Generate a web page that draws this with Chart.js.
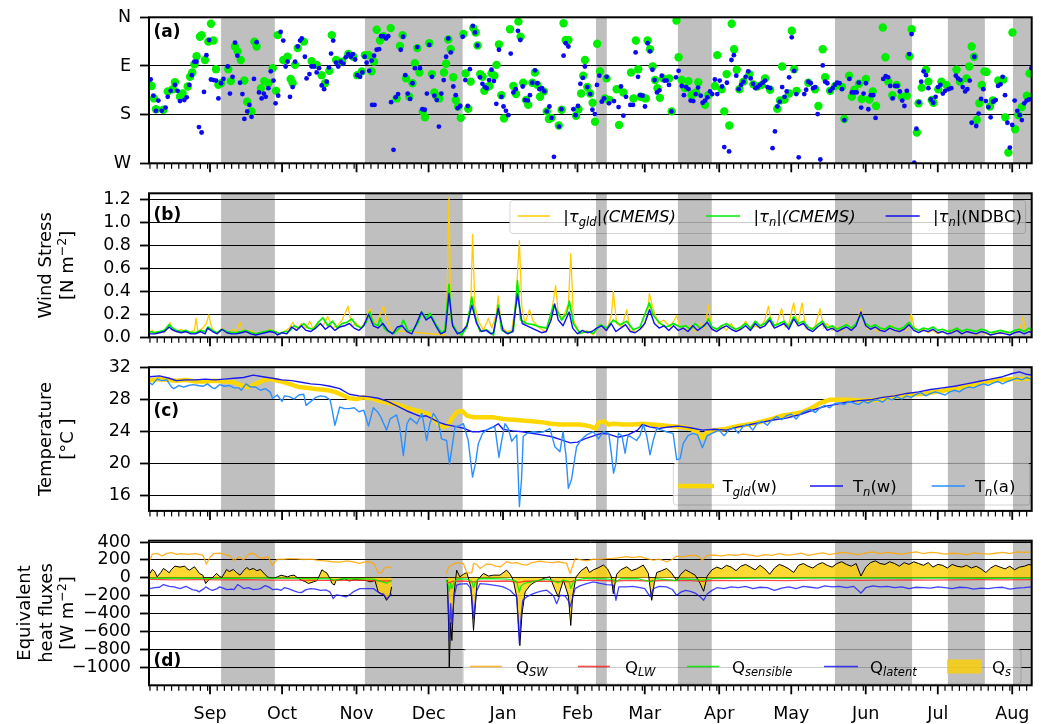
<!DOCTYPE html>
<html><head><meta charset="utf-8">
<script src="https://cdn.jsdelivr.net/npm/chart.js@4/dist/chart.umd.min.js"></script>
<style>
html,body{margin:0;padding:0;background:#fff;}
#wrap{position:relative;width:1045px;height:724px;overflow:hidden;}
canvas{position:absolute;left:0;}
</style></head><body><div id="wrap">
<canvas id="pa" width="1045" height="180" style="top:0px"></canvas>
<canvas id="pb" width="1045" height="172" style="top:180px"></canvas>
<canvas id="pc" width="1045" height="174" style="top:352px"></canvas>
<canvas id="pd" width="1045" height="198" style="top:526px"></canvas>
</div>
<script>
// ---- time axis: days counted from 1 Sep ----
const X_MIN = -25.4, X_MAX = 342.1;
const monthNames = ['Sep','Oct','Nov','Dec','Jan','Feb','Mar','Apr','May','Jun','Jul','Aug'];
const monthStarts = [0,30,61,91,122,153,181,212,242,273,303,334];
const monthLengths = [30,31,30,31,31,28,31,30,31,30,31,31];
const shadedSpans = [[4.6,27.0],[64.5,105.2],[160.7,165.2],[194.8,208.9],[260.2,292.3],[307.2,322.6],[334.3,345]];

// ---- (a) wind direction [day, degrees from N] ----
const dirCmems = [[-24.3,127],[-23.3,150],[-22.5,170],[-19.4,171],[-17.6,137],[-15.5,133],[-14.6,120],[-12.5,147],[-11.4,141],[-9.3,128],[-8.3,110],[-7.4,102],[-6.5,87],[-5.6,72],[-4.2,36],[-3.5,33],[-2.1,79],[-0.7,45],[0.4,12],[1.4,43],[2.5,96],[3.5,125],[4.6,122],[7.6,96],[8.7,118],[10.4,54],[11.5,63],[12.8,79],[14.3,117],[15.5,156],[17.3,174],[18.5,45],[19.4,54],[21.2,131],[22.6,118],[24.3,122],[26.1,94],[27.5,136],[28.2,33],[30.5,79],[32.3,73],[33.6,114],[34.4,122],[35.4,88],[36.5,57],[39.1,45],[42.3,81],[44.4,88],[46.5,107],[47.9,122],[49.7,99],[50.7,33],[52.5,79],[55,82],[57.6,68],[59.7,73],[61.3,107],[63.2,100],[64.5,70],[66,70],[67.3,100],[68.3,82],[69.4,23],[70.8,43],[72.2,35],[75.2,20],[77.7,150],[79.1,53],[80.2,33],[81.6,113],[83,147],[84.3,122],[85.3,85],[86.3,57],[87.2,102],[88.6,174],[89.5,185],[91.3,48],[92.4,105],[93.4,139],[94.4,147],[95.5,150],[97.4,102],[98.3,86],[99.2,41],[100.2,59],[101.3,111],[102.3,153],[103.3,165],[104.4,186],[105.5,31],[106.4,104],[107.5,169],[108.5,119],[109.6,20],[110.6,28],[111.4,52],[112.5,105],[113.5,110],[114.2,136],[115.4,129],[116.3,127],[117.2,104],[118.4,108],[119.3,88],[120.3,50],[121.3,144],[122.4,187],[124.9,22],[126.3,127],[127.4,142],[128.4,8],[129.3,36],[130.4,121],[131.6,153],[132.5,162],[134.2,121],[135.3,102],[136.3,125],[137.4,147],[139,137],[140.2,174],[141.1,188],[142.2,186],[145.2,200],[146.4,171],[147.2,11],[148.1,42],[149.2,42],[152.4,182],[153.4,170],[154.5,141],[155.4,108],[156.1,79],[157.1,129],[158.3,141],[159.3,158],[160.3,193],[161.2,49],[162.4,100],[164.4,150],[165.1,113],[166.3,153],[169.3,133],[170.3,199],[172.1,139],[175.3,102],[176.3,150],[177.3,43],[178.3,96],[179.3,147],[180.3,148],[181.4,150],[182.2,43],[183.2,59],[184.3,91],[185.3,116],[186.3,131],[187.3,149],[188.7,113],[191.2,113],[192.2,174],[194.2,6],[195.1,74],[196.4,116],[197.7,131],[199.2,118],[200.5,144],[201.2,142],[202.3,139],[203.3,120],[206.1,162],[207.5,144],[210.2,127],[211.2,70],[213,133],[214.1,174],[215.1,105],[216.2,200],[217.2,12],[218.2,59],[219.3,97],[220.4,133],[222.1,119],[224.6,105],[226.2,124],[227.9,128],[229.7,125],[231.1,113],[233.2,134],[236.2,169],[237.3,154],[238.2,91],[239.2,152],[241.1,141],[242.2,25],[243.2,96],[244.2,136],[249.1,121],[251.9,133],[253.3,164],[255.1,59],[256.1,111],[258.2,136],[260.3,127],[263.1,129],[264.1,188],[266.1,108],[267.2,147],[268.3,134],[270.2,123],[271.3,151],[273.1,114],[274.5,152],[275.9,137],[277.3,164],[280.1,19],[281.2,74],[282.4,119],[284.1,144],[285.9,125],[288,147],[290.1,145],[291.2,72],[292.1,22],[294.3,213],[295,159],[296.3,130],[298.1,97],[299.1,119],[300.5,153],[301.2,158],[303.2,133],[304.5,119],[306.6,125],[310.8,97],[312.2,119],[315,113],[316.1,91],[317.1,54],[318.1,73],[319.2,190],[320.3,159],[321.3,125],[322.4,100],[323.3,101],[324.7,165],[325.9,154],[328.2,117],[330.3,115],[331.1,185],[332.4,250],[334.1,28],[335.2,207],[336.6,181],[338,166],[340.1,145],[341.2,104]];
const dirNdbc = [[-24.7,115],[-23.6,145],[-22.5,173],[-21.5,154],[-20.1,173],[-18.5,167],[-17.6,147],[-16.4,136],[-14.6,125],[-13.5,136],[-12.5,155],[-10.7,153],[-9.7,148],[-8.6,125],[-7.6,107],[-6.5,82],[-5.6,82],[-4.6,203],[-3.5,213],[-2.5,138],[-1.5,70],[-0.4,42],[0.4,115],[1.5,116],[2.5,117],[3.5,150],[4.6,122],[5.6,114],[7.4,91],[8.3,141],[9.4,110],[10.4,47],[11.4,71],[12.5,121],[13.5,142],[14.3,188],[15.5,174],[16.4,162],[17.3,184],[18.3,114],[19.4,46],[20.4,139],[21.5,150],[22.4,141],[23.2,147],[24.3,131],[25.3,100],[26.4,117],[27.3,159],[28.4,145],[29.4,27],[30.5,43],[31.5,91],[32.3,82],[33.3,147],[34.4,129],[35.4,82],[36.5,54],[37.5,43],[38.2,39],[39.5,73],[40.2,113],[41.4,105],[42.3,91],[43.3,91],[44.4,102],[45.4,94],[46.5,126],[47.5,133],[48.6,119],[49.5,93],[50.4,67],[51.3,43],[52.5,84],[53.4,91],[54.4,82],[55.5,86],[56.5,74],[57.6,68],[58.6,73],[59.5,68],[60.4,78],[61.3,107],[62.5,110],[63.4,102],[64.4,73],[65.2,84],[66.3,99],[67.3,80],[67.5,162],[68.3,71],[68.5,162],[69.4,60],[70.4,59],[71.2,35],[72.2,35],[73.3,39],[74.2,35],[75.4,157],[76.4,245],[77.3,148],[78.3,142],[79.4,60],[80.4,36],[81.3,107],[82.3,141],[83.3,151],[84.3,122],[85.3,94],[86.3,55],[87.4,94],[88.4,170],[89.4,171],[90.3,141],[91.3,51],[92.4,110],[93.4,145],[94.4,153],[95.3,202],[96.3,141],[97.3,116],[98.3,73],[99.2,39],[100.2,65],[101.3,128],[102.3,144],[103.1,168],[104.2,164],[105.2,36],[106.3,116],[107.3,164],[108.2,96],[109.4,16],[110.3,28],[111.3,52],[112.4,111],[113.4,123],[114.4,129],[115.2,131],[116.2,116],[117.2,97],[118.2,118],[119.2,160],[120.3,60],[121.3,147],[122.2,165],[123.2,173],[124.2,181],[125.2,67],[126.3,139],[127.3,133],[128.2,25],[129.2,42],[130.2,128],[131.2,153],[132.3,154],[133.2,144],[134.2,121],[135.3,98],[136.3,122],[137.2,133],[138.2,131],[139.2,137],[140.2,174],[141.3,165],[142.2,186],[143.2,258],[145.3,202],[146.3,170],[147.2,71],[148.1,48],[149.2,54],[151.3,170],[152.2,181],[153.2,164],[154.2,123],[155.2,112],[156.1,91],[157.1,129],[158.3,142],[159.2,171],[160.2,179],[161.1,125],[162.1,108],[163.1,156],[164.1,150],[165.1,110],[166.1,159],[168.2,155],[170.1,166],[171.1,128],[172.1,182],[173.2,147],[175,162],[176.1,162],[177.2,65],[178.2,110],[179.1,144],[180.1,145],[181.1,165],[182.2,48],[183.2,63],[184.2,97],[185.1,116],[186.1,139],[187.1,135],[188.1,108],[189.2,117],[190.1,117],[191.1,125],[192.1,174],[194,111],[195.1,99],[196.4,127],[197.3,144],[198.2,129],[199.2,133],[200.1,154],[201.2,155],[202.2,142],[203.2,130],[204.3,145],[205.1,158],[206.1,154],[207.1,148],[208.2,137],[209.1,142],[210.2,115],[211.2,142],[212.2,117],[213.2,128],[214.1,240],[215.2,121],[216.1,248],[217.1,79],[218.1,70],[219.1,108],[220.1,133],[221.1,125],[222.1,119],[223,110],[224.1,100],[225.1,113],[226.1,123],[227.1,131],[228,129],[229,125],[230.1,121],[231.1,117],[232.1,129],[233.2,131],[234.2,242],[235.2,211],[236.2,165],[237.2,156],[238.2,129],[239.2,147],[240.1,137],[241.1,111],[242.2,37],[243.2,99],[244.1,142],[245.1,259],[247.4,142],[248.2,134],[249.1,119],[250.1,122],[251.1,131],[252,129],[253,179],[254.1,263],[255.1,89],[256.1,119],[257,122],[258.2,136],[259.2,131],[260.2,125],[261.1,121],[262.1,122],[263.1,133],[264.1,190],[266.2,114],[267.2,139],[268.2,139],[269.2,139],[270.1,121],[271.1,167],[272.1,141],[273.1,122],[274.1,170],[275.1,144],[276.1,144],[277.1,186],[280.3,114],[281.3,109],[282.3,111],[283.2,127],[284.2,150],[285.2,127],[286.2,127],[287.2,137],[288.2,154],[289.1,164],[290.1,136],[291.1,68],[292.1,31],[293.2,269],[294.1,206],[295.1,157],[296.1,119],[297.1,100],[298.1,107],[299.1,131],[300.1,152],[301.1,158],[302.1,147],[303.1,129],[304.1,125],[305.1,141],[306.1,136],[307.5,133],[308.6,131],[310.5,108],[311.4,113],[312.4,116],[313.4,129],[314.4,137],[315.3,133],[316.3,117],[317.1,195],[318.2,73],[319,201],[320,178],[321,151],[322,133],[323,155],[324.1,166],[325,185],[326,156],[327.1,153],[328.1,127],[329.1,124],[330,110],[331,144],[332,195],[333,241],[334,199],[335,154],[336.1,173],[337.1,181],[338,190],[339,159],[340,154],[341,152],[342,94]];

// ---- (b) wind stress [day, N m-2] ----
const tauGld = [[-25,0.04],[-24,0.06],[-23,0.03],[-21,0.05],[-19,0.04],[-17.5,0.08],[-16.7,0.13],[-15.5,0.06],[-14,0.05],[-12,0.07],[-10,0.04],[-8,0.05],[-6.5,0.06],[-5.8,0.165],[-5,0.05],[-3,0.08],[-1.5,0.12],[-0.5,0.195],[0.5,0.1],[1.5,0.05],[3,0.03],[5,0.08],[7,0.04],[9.7,0.07],[11,0.05],[12.5,0.13],[13.5,0.06],[15,0.04],[17,0.06],[19,0.03],[21,0.04],[23,0.05],[25,0.07],[27,0.05],[29,0.03],[31,0.05],[33,0.08],[34.5,0.13],[36,0.06],[38,0.12],[40,0.08],[41.5,0.14],[43,0.07],[45,0.12],[47,0.1],[49,0.18],[51,0.08],[53,0.1],[55,0.15],[57.5,0.27],[59,0.1],[61,0.12],[63,0.08],[65,0.15],[66.5,0.25],[68,0.12],[70,0.15],[71,0.21],[72.2,0.27],[73.5,0.16],[75.6,0.06],[97.8,0.02],[98.5,0.12],[99.5,1.215],[100.2,0.18],[101.3,0.09],[104,0.03],[105.5,0.06],[107.5,0.14],[108.6,0.3],[109.3,0.894],[110.3,0.27],[111.7,0.15],[113.8,0.06],[115.9,0.165],[117.3,0.08],[119.2,0.2],[120,0.36],[121.4,0.09],[123.5,0.05],[125.6,0.06],[127.4,0.32],[128.8,0.84],[129.8,0.27],[131.1,0.12],[133,0.24],[134.6,0.14],[136.7,0.09],[139.5,0.05],[141.5,0.12],[143.9,0.45],[145,0.21],[146.4,0.15],[147.8,0.22],[149.2,0.29],[150.2,0.73],[151.3,0.15],[154,0.03],[156.8,0.06],[159.6,0.02],[162.4,0.11],[165.2,0.06],[167.2,0.2],[167.9,0.4],[169.3,0.12],[171.4,0.09],[173.5,0.24],[174.9,0.06],[177.6,0.05],[180.4,0.09],[182.2,0.2],[182.9,0.38],[184.6,0.24],[186.7,0.12],[188.8,0.15],[191.6,0.09],[194.3,0.19],[195.7,0.09],[198,0.06],[200,0.1],[202,0.05],[204,0.12],[206,0.08],[207.5,0.28],[209,0.07],[211,0.05],[213,0.1],[215,0.06],[217,0.12],[219,0.05],[221,0.08],[223,0.14],[225,0.06],[227,0.1],[229,0.08],[231,0.15],[232.5,0.27],[234,0.1],[236,0.12],[238,0.25],[239.5,0.09],[241,0.12],[243,0.3],[244.5,0.1],[246.5,0.3],[248,0.08],[250,0.06],[252,0.1],[254,0.25],[255.5,0.08],[257,0.12],[259,0.06],[261,0.09],[263,0.05],[265,0.12],[267,0.07],[269,0.1],[271,0.25],[272.5,0.12],[274,0.07],[276,0.1],[278,0.05],[280,0.08],[282,0.06],[284,0.1],[286,0.05],[288,0.08],[290,0.06],[292,0.2],[293.5,0.06],[295,0.04],[297,0.07],[299,0.04],[301,0.06],[303,0.03],[305,0.05],[307,0.03],[309,0.05],[311,0.07],[313,0.03],[315,0.05],[317,0.04],[319,0.02],[321,0.05],[323,0.03],[325,0.02],[327,0.04],[329,0.03],[331,0.05],[333,0.02],[335,0.04],[337,0.06],[338.5,0.18],[339.5,0.05],[341,0.07],[342,0.04]];
const tauCmems = [[-25,0.05],[-23,0.04],[-21,0.05],[-19,0.06],[-17,0.11],[-15.5,0.08],[-14,0.06],[-12,0.05],[-10,0.06],[-8,0.04],[-6,0.04],[-4,0.06],[-2,0.05],[-0.8,0.09],[1,0.06],[3,0.04],[5,0.07],[7,0.05],[9,0.04],[11,0.04],[13,0.05],[15,0.06],[17,0.04],[19,0.03],[21,0.04],[23,0.05],[25,0.06],[27,0.05],[29,0.03],[31,0.05],[33,0.05],[35,0.1],[37,0.08],[39,0.12],[41,0.08],[43,0.07],[45,0.13],[47,0.17],[49,0.1],[51,0.14],[53,0.08],[55,0.12],[57,0.13],[59,0.16],[61,0.1],[63,0.08],[65,0.13],[66.5,0.22],[68,0.12],[70,0.1],[70.8,0.165],[72.5,0.08],[74,0.05],[76.6,0.035],[79.4,0.09],[80.5,0.15],[82.6,0.05],[84.6,0.065],[86.5,0.12],[88.2,0.22],[90.2,0.165],[91.6,0.21],[93.8,0.12],[96.5,0.035],[97.8,0.065],[99.5,0.46],[100.6,0.135],[102.7,0.05],[104.8,0.02],[106.9,0.09],[109,0.35],[110.3,0.19],[112.4,0.05],[115.2,0.065],[118,0.02],[120,0.28],[121.4,0.065],[123.5,0.035],[126.3,0.05],[128,0.49],[129.3,0.15],[131.8,0.12],[134.6,0.11],[137.4,0.09],[140.2,0.08],[143,0.28],[144.3,0.24],[146.4,0.15],[148.5,0.21],[149.6,0.315],[151.3,0.12],[154,0.035],[156.8,0.05],[159.6,0.035],[162.4,0.11],[165.2,0.08],[167.9,0.15],[170.7,0.11],[173.5,0.14],[176.2,0.065],[179,0.09],[182.9,0.3],[184.6,0.19],[187.4,0.12],[190.1,0.09],[192.9,0.12],[195.7,0.09],[198,0.1],[200,0.07],[202,0.12],[204,0.08],[206,0.1],[207.5,0.16],[209,0.09],[211,0.07],[213,0.1],[215,0.12],[217,0.09],[219,0.07],[221,0.09],[223,0.12],[225,0.08],[227,0.14],[229,0.1],[231,0.12],[233,0.17],[235,0.1],[237,0.12],[239,0.14],[241,0.09],[243,0.18],[245,0.12],[247,0.14],[249,0.09],[251,0.07],[253,0.11],[255,0.14],[257,0.08],[259,0.1],[261,0.07],[263,0.09],[265,0.11],[267,0.08],[269,0.12],[271,0.2],[273,0.12],[275,0.09],[277,0.11],[279,0.08],[281,0.07],[283,0.1],[285,0.08],[287,0.07],[289,0.09],[291,0.13],[293,0.08],[295,0.06],[297,0.08],[299,0.07],[301,0.09],[303,0.06],[305,0.07],[307,0.05],[309,0.06],[311,0.08],[313,0.05],[315,0.07],[317,0.06],[319,0.05],[321,0.07],[323,0.06],[325,0.04],[327,0.05],[329,0.06],[331,0.05],[333,0.04],[335,0.06],[337,0.07],[339,0.05],[341,0.08],[342,0.06]];
const tauNdbc = [[-25,0.03],[-23,0.03],[-21,0.04],[-19,0.05],[-17,0.09],[-16,0.07],[-14,0.05],[-12,0.04],[-10,0.05],[-8,0.03],[-6,0.03],[-4,0.05],[-2,0.03],[-1,0.08],[1,0.05],[3,0.03],[5,0.07],[7,0.04],[9,0.03],[11,0.03],[13,0.04],[15,0.05],[17,0.03],[19,0.02],[21,0.03],[23,0.04],[25,0.05],[27,0.04],[28,0.02],[30,0.04],[32,0.03],[34,0.09],[36,0.06],[38,0.1],[40,0.06],[42,0.05],[44,0.08],[46,0.12],[48,0.07],[50,0.1],[52,0.06],[54,0.09],[56,0.1],[58,0.12],[60,0.08],[62,0.06],[64,0.1],[66,0.2],[68,0.1],[70,0.08],[72,0.12],[74,0.06],[76,0.03],[78,0.09],[80,0.1],[82,0.05],[84,0.03],[86,0.12],[88,0.22],[90,0.15],[92,0.18],[94,0.1],[96,0.03],[98,0.05],[99.5,0.38],[101,0.1],[103,0.03],[105,0.05],[107,0.1],[109,0.28],[111,0.12],[113,0.05],[115,0.06],[117,0.03],[118,0.04],[120,0.25],[122,0.06],[124,0.03],[126,0.05],[128,0.376],[130,0.12],[132,0.1],[134,0.08],[136,0.06],[138,0.04],[140,0.05],[142,0.15],[143.5,0.29],[145,0.15],[147,0.1],[149.5,0.22],[151,0.08],[153,0.03],[155,0.06],[157,0.04],[159,0.05],[161,0.08],[163,0.1],[165,0.06],[167,0.12],[169,0.05],[171,0.08],[173,0.11],[175,0.05],[177,0.04],[179,0.07],[181,0.12],[183,0.24],[185,0.12],[187,0.08],[189,0.1],[191,0.06],[193,0.1],[195,0.06],[197,0.08],[199,0.05],[201,0.1],[203,0.06],[205,0.09],[207,0.13],[209,0.07],[211,0.05],[213,0.08],[215,0.1],[217,0.07],[219,0.05],[221,0.07],[223,0.1],[225,0.06],[227,0.12],[229,0.08],[231,0.1],[233,0.15],[235,0.08],[237,0.1],[239,0.12],[241,0.07],[243,0.16],[245,0.1],[247,0.12],[249,0.07],[251,0.05],[253,0.09],[255,0.12],[257,0.06],[259,0.08],[261,0.05],[263,0.07],[265,0.09],[267,0.06],[269,0.1],[271,0.22],[273,0.1],[275,0.07],[277,0.09],[279,0.06],[281,0.05],[283,0.08],[285,0.06],[287,0.05],[289,0.07],[291,0.11],[293,0.06],[295,0.04],[297,0.06],[299,0.05],[301,0.07],[303,0.04],[305,0.05],[307,0.03],[309,0.04],[311,0.06],[313,0.03],[315,0.05],[317,0.04],[319,0.03],[321,0.05],[323,0.04],[325,0.02],[327,0.03],[329,0.04],[331,0.03],[333,0.02],[335,0.04],[337,0.05],[339,0.03],[341,0.05],[342,0.04]];

// ---- (c) temperature [day, degC] ----
const tempGldW = [[-25,30.4],[-22,30.6],[-18,30.5],[-14,30.4],[-10,30.5],[-6,30.3],[-2,30.3],[2,30.4],[6,30.3],[10,30.2],[13,29.8],[16,29.6],[19,30.0],[22,30.4],[25,30.6],[28,30.4],[31,30.2],[34,29.9],[37,29.6],[40,29.5],[43,29.4],[46,29.3],[49,29.2],[52,29.0],[55,28.6],[58,28.2],[61,28.1],[64,28.3],[67,28.2],[70,27.9],[73,27.7],[76,27.5],[79,27.3],[82,27.0],[85,26.7],[88,26.5],[91,26.2],[93,25.6],[95,25.0],[97,24.6],[99,24.8],[101,25.8],[103,26.5],[105,26.6],[107,26.0],[110,25.8],[114,25.8],[118,25.8],[122,25.6],[126,25.5],[130,25.4],[134,25.3],[138,25.2],[142,25.0],[146,24.9],[150,24.9],[154,24.9],[158,24.7],[160.5,24.4],[162,25.2],[164,25.3],[166,24.9],[168,25.0],[172,24.9],[176,24.9],[180,25.0],[184,24.9],[188,24.8],[192,24.7],[196,24.6],[200,24.4],[203,23.9],[205,23.2],[207,24.0],[210,24.2],[214,24.3],[218,24.6],[222,24.8],[226,25.0],[230,25.3],[234,25.6],[238,26.0],[242,26.2],[246,26.4],[250,26.9],[254,27.6],[258,28.0],[262,28.0],[266,28.0],[270,27.9],[274,27.9],[278,28.0],[282,28.2],[286,28.4],[290,28.6],[294,28.7],[298,28.8],[302,29.0],[306,29.2],[310,29.4],[314,29.6],[318,29.9],[322,30.2],[326,30.4],[330,30.5],[334,30.6],[338,30.6],[342,30.7]];
const tempNdbcW = [[-25,30.9],[-21,31.0],[-17,30.7],[-14,30.4],[-10,30.5],[-6,30.5],[-2,30.6],[2,30.5],[6,30.6],[10,30.7],[14,30.8],[18,31.1],[22,30.9],[26,30.7],[30,30.5],[34,30.4],[38,30.2],[42,30.0],[46,29.9],[50,29.7],[54,29.4],[58,28.7],[62,28.5],[66,28.4],[70,28.2],[74,27.8],[78,27.2],[82,26.6],[86,26.1],[88,25.9],[90,26.0],[92,25.7],[94,25.4],[96,25.1],[98,24.9],[100,24.8],[103,24.6],[106,24.4],[109,24.0],[112,24.0],[115,24.2],[118,24.6],[120,25.0],[122,24.3],[126,24.1],[130,24.0],[134,23.8],[138,23.6],[142,23.4],[146,23.0],[150,22.6],[153,22.7],[156,23.1],[160,23.5],[163,23.8],[166,23.7],[170,23.3],[174,23.6],[178,24.2],[180,24.9],[183,24.6],[187,24.4],[191,24.6],[195,24.7],[200,24.5],[205,24.2],[210,24.3],[215,24.2],[220,24.6],[225,24.9],[230,25.2],[235,25.5],[240,25.7],[245,26.1],[250,26.6],[255,27.1],[260,27.4],[265,27.7],[270,27.9],[275,28.0],[280,28.3],[285,28.5],[290,28.8],[295,29.0],[300,29.3],[305,29.5],[310,29.7],[315,30.0],[320,30.3],[325,30.6],[330,30.9],[334,31.3],[337,31.5],[340,31.2],[342,31.1]];
const tempNdbcA = [[-25,30.1],[-24,29.9],[-22,30.6],[-20,30.4],[-18,30.5],[-16,29.6],[-15,29.4],[-13,29.8],[-11,29.6],[-9,29.8],[-7,29.9],[-5,29.8],[-3,29.7],[-1,30.0],[1,29.5],[2,29.4],[4,29.9],[6,29.7],[8,29.8],[10,29.5],[12,29.5],[13,29.2],[15,30.0],[17,29.6],[19,29.6],[21,29.2],[23,29.4],[25,29.0],[26,28.2],[28,28.6],[30,27.8],[31,28.5],[33,28.4],[35,28.1],[37,28.6],[39,28.7],[40,27.3],[42,27.8],[44,28.3],[46,28.5],[48,28.4],[50,28.0],[51,26.5],[52,24.8],[54,27.1],[56,26.9],[58,26.9],[60,27.0],[62,26.5],[64,26.7],[66,24.7],[68,27.0],[70,26.4],[71,25.9],[73.5,24.2],[75,25.6],[77.7,26.1],[79,24.5],[80.5,21.0],[82,25.0],[83.3,25.7],[86.1,25.0],[88.2,26.3],[89,25.0],[90.2,22.9],[91.5,25.0],[93,26.3],[95,25.4],[96.4,23.1],[98.5,22.9],[99.7,19.9],[101,22.5],[102,24.6],[104,24.8],[105.5,25.0],[107.5,22.9],[109.3,18.3],[110.5,20.0],[111.7,22.5],[113.5,23.8],[115.2,24.2],[117,24.5],[118.6,24.6],[120.3,20.8],[121.5,23.0],[122.8,25.0],[124.2,24.4],[125.6,22.8],[127.7,23.6],[128.8,14.6],[129.7,18.0],[130.4,23.4],[132,23.8],[134.6,24.0],[137,23.9],[139,24.0],[141.5,24.4],[143.6,22.1],[145.7,21.5],[147,24.0],[148.2,21.0],[149.2,16.9],[150.5,18.0],[152.6,22.1],[154.5,23.0],[156.8,23.6],[159.6,24.0],[161.7,23.1],[163.8,24.0],[166,23.8],[167,21.5],[168,18.8],[169,20.0],[170,23.8],[171.5,23.5],[172.8,21.3],[174,23.5],[175,23.4],[177.6,22.9],[179,23.5],[180.4,24.9],[181.8,23.5],[183.2,21.1],[184.6,23.0],[186,24.4],[188,24.2],[190,24.0],[192.8,23.8],[194.3,20.5],[195.7,20.6],[197,22.5],[199,23.5],[201,23.8],[203,23.6],[205,22.0],[207,23.5],[209,23.8],[212,24.2],[214,23.5],[216,24.2],[218,24.5],[220,23.8],[222,24.7],[224,24.9],[226,24.2],[228,25.1],[230,25.3],[232,24.8],[234,25.5],[236,25.9],[238,25.5],[240,26.0],[242,26.2],[244,25.6],[246,26.3],[248,26.6],[250,26.8],[252,26.4],[254,27.0],[256,27.3],[258,27.0],[260,27.5],[262,27.6],[264,27.4],[266,27.8],[268,27.6],[270,27.4],[272,27.8],[274,27.6],[276,27.9],[278,28.0],[280,27.7],[282,28.2],[284,28.0],[286,28.4],[288,28.1],[290,28.5],[292,28.3],[294,28.7],[296,28.9],[298,28.5],[300,28.8],[302,29.0],[304,28.8],[306,28.6],[308,29.0],[310,29.2],[312,29.0],[314,29.4],[316,29.6],[318,29.5],[320,29.8],[322,30.0],[324,29.8],[326,30.1],[328,30.3],[330,30.0],[332,30.3],[334,30.5],[336,30.7],[338,30.5],[340,30.8],[342,30.6]];

// ---- (d) equivalent heat fluxes [day, W m-2]; null marks the data gap ----
const qSw = [[-25,199],[-24,266],[-22,273],[-20,244],[-18,273],[-16,281],[-14,262],[-12,270],[-9,262],[-6,270],[-3,255],[-1.5,154],[0,230],[1.5,270],[4,275],[6,262],[8,250],[10,195],[12,235],[14,200],[16,266],[18,275],[20,235],[22,215],[24,240],[26,142],[28,210],[30,205],[33,215],[36,212],[39,205],[42,210],[45,195],[48,190],[51,180],[54,175],[57,190],[60,175],[62.4,161],[64,175],[66.6,180],[68.5,150],[70,56],[71.5,60],[72.5,110],[74.3,124],[75.6,110],[86,null],[98.3,49],[99.2,110],[99.9,131],[101,150],[102.7,169],[104,165],[105.5,160],[106.9,56],[109,56],[109.7,161],[111,150],[112.4,105],[113.8,130],[115.2,154],[117,150],[119,130],[121,124],[123.5,180],[125.5,165],[127.7,169],[129.8,150],[131.8,142],[134,170],[137.4,187],[140,175],[142.9,169],[145,180],[148.5,161],[149.9,49],[152,217],[154.5,200],[156.8,191],[159.6,210],[162.4,206],[165,215],[167.9,217],[170.5,225],[173.5,236],[176,225],[179,236],[182,215],[184.6,199],[187,210],[190.1,180],[192.5,205],[194.3,243],[197,235],[200,250],[203,245],[205,200],[207,250],[210,255],[213,245],[216,260],[219,250],[222,265],[225,255],[228,240],[231,260],[234,250],[237,270],[240,255],[243,260],[246,275],[249,250],[252,265],[255,280],[258,260],[261,275],[264,285],[267,270],[270,260],[273,275],[276,290],[279,270],[282,285],[285,275],[288,265],[291,280],[294,290],[297,270],[300,285],[303,280],[306,265],[309,275],[312,270],[315,260],[318,280],[321,270],[324,265],[327,275],[330,285],[333,270],[336,290],[339,285],[342,290]];
const qLw = [[-25,-18],[-15,-22],[-5,-20],[5,-22],[15,-20],[25,-25],[35,-25],[45,-28],[55,-28],[62,-25],[68,-30],[72,-35],[75.6,-33],[86,null],[98.3,-40],[99.5,-55],[101,-40],[105,-35],[109.7,-45],[112,-38],[118,-38],[124,-35],[128.8,-50],[131,-38],[137,-35],[143,-40],[150,-45],[152,-30],[160,-25],[168,-35],[175,-28],[183,-35],[190,-28],[200,-30],[205,-38],[210,-28],[220,-30],[230,-28],[240,-30],[250,-25],[260,-25],[270,-28],[280,-25],[290,-22],[300,-25],[310,-22],[320,-20],[330,-22],[342,-20]];
const qSensible = [[-25,-5],[-10,-3],[0,-8],[10,-5],[20,-4],[30,-6],[40,-8],[50,-10],[52,-25],[55,-8],[62,-10],[68,-15],[71,-40],[73.5,-60],[75.6,-30],[86,null],[98.3,-20],[99.2,-80],[99.6,-150],[100.2,-60],[100.7,-120],[101.6,-50],[103,-10],[106.9,-15],[109,-40],[109.7,-110],[110.5,-50],[112,-10],[118,-8],[124,-15],[127.7,-40],[128.8,-160],[129.5,-90],[131,-60],[133,-50],[136,-30],[140,-15],[143,-35],[145,-55],[147,-25],[149.5,-40],[150.2,-120],[151.5,-30],[156,-5],[163,-8],[168,-20],[169,-45],[171,-10],[178,-8],[183.5,-45],[186,-10],[194,-30],[196,-10],[205,-25],[210,-5],[220,-5],[230,-3],[240,-5],[250,-3],[260,-2],[270,-4],[280,-2],[290,-3],[300,-4],[310,-3],[320,-5],[330,-6],[342,-4]];
const qLatent = [[-25,-120],[-23,-110],[-21,-105],[-19.4,-75],[-17,-94],[-15,-100],[-12.5,-120],[-10,-94],[-7.4,-131],[-5.5,-140],[-4.6,-157],[-2.5,-120],[-1.8,-101],[0,-130],[1,-139],[3,-120],[4,-101],[6,-120],[7,-131],[9,-125],[10,-131],[11.5,-75],[13,-100],[14,-120],[16,-110],[18,-131],[20,-125],[21,-120],[23,-86],[25,-110],[26,-131],[28,-125],[29.6,-139],[31,-110],[32.6,-120],[35,-146],[36.5,-160],[38,-165],[40,-131],[42,-120],[44,-125],[46,-139],[48.4,-135],[50,-160],[51.3,-232],[52.5,-190],[54,-195],[56.7,-213],[58.5,-180],[60,-150],[62.4,-120],[65.2,-120],[68,-120],[69.4,-146],[70.8,-176],[72.2,-180],[73.5,-232],[74.9,-200],[75.6,-176],[86,null],[98.8,-64],[99.4,-400],[99.6,-700],[100.2,-288],[100.7,-513],[101.6,-213],[102.7,-82],[104,-70],[106.9,-64],[108.3,-110],[109,-200],[109.7,-457],[110.3,-300],[111,-150],[112.4,-64],[115,-70],[118,-82],[120,-90],[122.1,-100],[124.9,-138],[127.7,-213],[128.8,-738],[129.3,-500],[130.2,-250],[131.8,-213],[134.6,-176],[137.4,-150],[140.2,-138],[143,-200],[144.3,-288],[145.7,-195],[147.8,-200],[149.3,-260],[149.9,-325],[150.7,-250],[152,-120],[154,-90],[156.8,-64],[159.6,-45],[162,-60],[165.2,-75],[167.9,-82],[169,-250],[170.2,-100],[173.5,-100],[176,-95],[179,-110],[181,-120],[183.2,-210],[184.6,-120],[187,-95],[190.1,-100],[192.5,-130],[194.3,-195],[196,-160],[198,-140],[200,-150],[202,-170],[204,-210],[205.5,-250],[207,-180],[209,-140],[211,-110],[214,-120],[217,-100],[220,-110],[223,-95],[226,-120],[229,-105],[232,-110],[235,-140],[238,-115],[241,-100],[244,-120],[247,-95],[250,-105],[253,-115],[256,-90],[259,-100],[262,-95],[265,-110],[268,-95],[271,-170],[273,-110],[276,-90],[279,-100],[282,-95],[285,-110],[288,-100],[291,-120],[294,-105],[297,-110],[300,-115],[303,-100],[306,-110],[309,-120],[312,-105],[315,-110],[318,-125],[321,-115],[324,-120],[327,-110],[330,-105],[333,-125],[336,-115],[339,-110],[342,-100]];
const qNet = [[-25,49],[-24,94],[-23,70],[-22,11],[-20.5,60],[-19.4,105],[-18,80],[-17,56],[-16,95],[-14.6,131],[-12.5,120],[-10.5,131],[-9.5,100],[-8.5,86],[-7.5,105],[-6.5,124],[-5.5,90],[-4.4,49],[-3,30],[-1.8,-63],[-0.5,-20],[0.7,-7],[2,30],[2.8,49],[3.8,20],[4.9,4],[6,50],[6.9,94],[8,70],[9.7,94],[11,60],[12.5,30],[14,80],[15.3,116],[16.5,90],[18,105],[19.5,80],[21,94],[22.5,50],[23.9,11],[25,0],[26,-7],[28,10],[29.6,30],[31,20],[32.3,11],[33.5,25],[35,30],[36.5,0],[38,-26],[39.5,-40],[41,-63],[43,-45],[44.6,-30],[45.8,40],[46.6,90],[47.6,70],[48.6,56],[49.8,0],[50.8,-63],[51.8,-80],[52.5,-26],[54,-20],[56,-10],[58,-35],[60,-20],[62.4,-26],[65.2,-30],[66.6,-45],[68.7,-30],[70,-157],[71.3,-176],[72.5,-200],[73.5,-251],[74.9,-200],[75.6,-101],[86,null],[98.8,-26],[99.4,-600],[99.6,-1000],[100.2,-500],[100.7,-700],[101.6,-176],[102.7,86],[104,11],[105.5,40],[106.9,60],[108.6,-100],[109.7,-588],[110.5,-300],[111.3,-26],[113.8,49],[116,20],[118,30],[120.7,30],[123.5,86],[125,40],[126.3,-30],[127.7,-213],[129,-757],[129.9,-400],[131.2,-157],[133.3,-82],[135,-50],[137.4,-26],[139.5,0],[141.5,11],[143.6,-130],[145,-213],[147.1,-26],[149.2,-200],[150.2,-532],[151,-200],[152.4,11],[154.5,80],[156.8,124],[158,60],[159.6,90],[161.5,110],[163.8,143],[165.5,100],[167,20],[167.9,-176],[169.3,40],[171,90],[173.5,124],[175.5,80],[177.6,100],[180.4,143],[182.5,50],[183.9,-251],[185,-50],[186,60],[188,80],[190.1,105],[192,60],[194.3,-30],[196,40],[198,90],[200,60],[202,30],[204,-60],[205.5,-150],[207,20],[209,90],[211,120],[213,100],[215,140],[217,120],[219,80],[221,130],[223,150],[225,120],[227,90],[229,140],[231,100],[233,40],[235,110],[237,150],[239,130],[241,100],[243,60],[245,140],[247,160],[249,130],[251,110],[253,150],[255,170],[257,140],[259,120],[261,160],[263,180],[265,150],[267,130],[269,160],[271,20],[273,120],[275,170],[277,190],[279,160],[281,150],[283,180],[285,160],[287,130],[289,170],[291,150],[293,180],[295,160],[297,140],[299,170],[301,120],[303,150],[305,140],[307,110],[309,150],[311,130],[313,120],[315,140],[317,110],[319,130],[321,100],[323,60],[325,110],[327,140],[329,120],[331,100],[333,130],[335,90],[337,120],[339,130],[341,150],[342,140]];

// ---- axis tick values ----
const dirTicks = [0,90,180,270], dirTickLabels = ['N','E','S','W'];
const stressTicks = [0,0.2,0.4,0.6,0.8,1.0,1.2];
const tempTicks = [16,20,24,28,32];
const fluxTicks = [-1000,-800,-600,-400,-200,0,200,400];

const FONT = '"DejaVu Sans", "Liberation Sans", sans-serif';
const pts = a => a.map(p => ({x: p[0], y: p[1]}));
const line = (data, color, width) => ({data: pts(data), borderColor: color, borderWidth: width, pointRadius: 0, tension: 0, fill: false, spanGaps: false, borderJoinStyle: 'round'});
const dots = (data, color, r) => ({data: pts(data), showLine: false, pointRadius: r, pointBackgroundColor: color, pointBorderWidth: 0, borderColor: color});

const panels = {
  pa: {top: 0, h: 180, areaTop: 17.3, areaBottom: 163.3, yMin: 0, yMax: 270, reverse: true,
       ticks: dirTicks, fmt: (v) => dirTickLabels[dirTicks.indexOf(v)],
       datasets: [dots(dirNdbc, '#0a0af0', 2.4), dots(dirCmems, '#00ee00', 4.2)],
       label: ['(a)', 37]},
  pb: {top: 180, h: 172, areaTop: 193.3, areaBottom: 337.3, yMin: 0, yMax: 1.252,
       ticks: stressTicks, fmt: (v) => v.toFixed(1),
       datasets: [line(tauNdbc, '#1010ee', 1.4), line(tauCmems, '#00ee00', 1.7), line(tauGld, '#ffcc00', 1.3)],
       label: ['(b)', 219.5],
       title: [[44.3, [['Wind Stress']]], [66.7, [['[N m'], ['\u22122', 'u'], [']']]]],
       legend: {box: [510, 200.5, 1025.6, 233.5], cy: 216, items: [
         {type: 'line', x0: 517.7, x1: 550, color: '#ffcc00', w: 1.5, tx: 563.3, text: [['|'], ['\u03c4', 'i'], ['gld', 'is'], ['|'], ['(CMEMS)', 'i']]},
         {type: 'line', x0: 706, x1: 740, color: '#00ee00', w: 1.7, tx: 753.5, text: [['|'], ['\u03c4', 'i'], ['n', 'is'], ['|'], ['(CMEMS)', 'i']]},
         {type: 'line', x0: 885.6, x1: 919.7, color: '#1010ee', w: 1.5, tx: 933, text: [['|'], ['\u03c4', 'i'], ['n', 'is'], ['|(NDBC)']]}]}},
  pc: {top: 352, h: 174, areaTop: 367.2, areaBottom: 510.9, yMin: 14.07, yMax: 32.09,
       ticks: tempTicks, fmt: (v) => String(v),
       datasets: [line(tempNdbcA, '#2b8fff', 1.4), line(tempNdbcW, '#1a1af0', 1.4), line(tempGldW, '#ffd700', 4.5)],
       label: ['(c)', 415.5],
       title: [[44.3, [['Temperature']]], [66, [['[\u00b0C ]']]]],
       legend: {box: [673.3, 463.3, 1030, 505], cy: 486, items: [
         {type: 'line', x0: 678.3, x1: 714, color: '#ffd700', w: 4.5, tx: 722.7, text: [['T'], ['gld', 'is'], ['(w)']]},
         {type: 'line', x0: 810, x1: 843, color: '#1a1af0', w: 1.5, tx: 853, text: [['T'], ['n', 'is'], ['(w)']]},
         {type: 'line', x0: 931.7, x1: 965, color: '#2b8fff', w: 1.5, tx: 975, text: [['T'], ['n', 'is'], ['(a)']]}]}},
  pd: {top: 526, h: 198, areaTop: 540.7, areaBottom: 685.3, yMin: -1200, yMax: 415,
       ticks: fluxTicks, fmt: (v) => v < 0 ? '\u2212' + (-v) : String(v),
       datasets: [line(qLatent, 'rgba(20,20,255,0.8)', 1.3), line(qSensible, 'rgba(0,235,0,0.85)', 1.3),
                  line(qLw, 'rgba(255,30,30,0.8)', 1.3), line(qSw, 'rgba(255,165,0,0.85)', 1.3),
                  Object.assign(line(qNet, '#000', 1), {fill: 'origin', backgroundColor: 'rgba(255,208,0,0.8)'})],
       label: ['(d)', 666], months: true,
       title: [[23.3, [['Equivalent']]], [45, [['heat fluxes']]], [66.7, [['[W m'], ['\u22122', 'u'], [']']]]],
       legend: {box: [463.3, 649.5, 1021, 684], cy: 666.5, items: [
         {type: 'line', x0: 470, x1: 502, color: 'rgba(255,165,0,0.8)', w: 1.6, tx: 516, text: [['Q'], ['SW', 'is']]},
         {type: 'line', x0: 578, x1: 610, color: 'rgba(255,30,30,0.8)', w: 1.6, tx: 625, text: [['Q'], ['LW', 'is']]},
         {type: 'line', x0: 687, x1: 719, color: 'rgba(0,235,0,0.85)', w: 1.6, tx: 732, text: [['Q'], ['sensible', 'is']]},
         {type: 'line', x0: 824, x1: 858, color: 'rgba(20,20,255,0.8)', w: 1.6, tx: 870, text: [['Q'], ['latent', 'is']]},
         {type: 'patch', x0: 947, x1: 982, color: 'rgba(255,208,0,0.8)', tx: 992, text: [['Q'], ['s', 'is']]}]}}
};

// tick positions along the time axis
const majorDays = monthStarts.slice();
const minorDays = [];
[[-31, 31]].concat(monthStarts.map((s, i) => [s, monthLengths[i]])).forEach(([s, len]) => {
  for (let k = 4; k <= len; k += 3) minorDays.push(s + k - 1);
});

function drawRich(ctx, parts, x, y, size, align) {
  const segs = parts.map(([t, f = '']) => {
    const small = f.includes('s') || f.includes('u');
    const font = (f.includes('i') ? 'italic ' : '') + (f.includes('b') ? 'bold ' : '') + (small ? size * 0.7 : size) + 'px ' + FONT;
    ctx.font = font;
    return {t, font, w: ctx.measureText(t).width, dy: f.includes('s') ? size * 0.22 : (f.includes('u') ? -size * 0.42 : 0)};
  });
  const total = segs.reduce((a, s) => a + s.w, 0);
  let cx = align === 'center' ? x - total / 2 : x;
  ctx.textBaseline = 'alphabetic';
  ctx.textAlign = 'left';
  segs.forEach(s => { ctx.font = s.font; ctx.fillText(s.t, cx, y + s.dy); cx += s.w; });
}

function roundRect(ctx, x0, y0, x1, y1, r) {
  ctx.beginPath();
  ctx.moveTo(x0 + r, y0); ctx.lineTo(x1 - r, y0); ctx.quadraticCurveTo(x1, y0, x1, y0 + r);
  ctx.lineTo(x1, y1 - r); ctx.quadraticCurveTo(x1, y1, x1 - r, y1);
  ctx.lineTo(x0 + r, y1); ctx.quadraticCurveTo(x0, y1, x0, y1 - r);
  ctx.lineTo(x0, y0 + r); ctx.quadraticCurveTo(x0, y0, x0 + r, y0); ctx.closePath();
}

const decor = {
  id: 'decor',
  beforeDatasetsDraw(chart) {
    const p = panels[chart.canvas.id];
    const {ctx, chartArea: a} = chart;
    const xs = chart.scales.x;
    ctx.save();
    if (p.legend) {
      const [x0, y0, x1, y1] = p.legend.box;
      roundRect(ctx, x0, y0 - p.top, x1, y1 - p.top, 3);
      ctx.fillStyle = 'rgba(255,255,255,0.8)';
      ctx.fill();
      ctx.strokeStyle = 'rgba(204,204,204,0.8)';
      ctx.lineWidth = 1;
      ctx.stroke();
    }
    ctx.beginPath();
    ctx.rect(a.left, a.top, a.right - a.left, a.bottom - a.top);
    ctx.clip();
    ctx.fillStyle = 'rgba(0,0,0,0.25)';
    shadedSpans.forEach(([d0, d1]) => {
      const x0 = xs.getPixelForValue(d0), x1 = xs.getPixelForValue(d1);
      ctx.fillRect(x0, a.top, x1 - x0, a.bottom - a.top);
    });
    ctx.restore();
  },
  afterDatasetsDraw(chart) {
    const p = panels[chart.canvas.id];
    const {ctx} = chart;
    ctx.save();
    ctx.fillStyle = '#000';
    if (p.legend) {
      const cy = p.legend.cy - p.top;
      p.legend.items.forEach(it => {
        if (it.type === 'line') {
          ctx.strokeStyle = it.color; ctx.lineWidth = it.w; ctx.lineCap = 'butt';
          ctx.beginPath(); ctx.moveTo(it.x0, cy); ctx.lineTo(it.x1, cy); ctx.stroke();
        } else {
          ctx.fillStyle = it.color;
          ctx.fillRect(it.x0, cy - 7, it.x1 - it.x0, 14);
        }
        ctx.fillStyle = '#000';
        drawRich(ctx, it.text, it.tx, cy + 6, 16.5, 'left');
      });
    }
    drawRich(ctx, [[p.label[0], 'b']], 153.5, p.label[1] - p.top, 17, 'left');
    ctx.restore();
  },
  afterDraw(chart) {
    const p = panels[chart.canvas.id];
    const {ctx, chartArea: a} = chart;
    const xs = chart.scales.x;
    ctx.save();
    // frame
    ctx.strokeStyle = '#000'; ctx.lineWidth = 2;
    ctx.strokeRect(a.left, a.top, a.right - a.left, a.bottom - a.top);
    // time ticks
    const tick = (d, len, w) => {
      if (d < X_MIN || d > X_MAX) return;
      const px = xs.getPixelForValue(d);
      ctx.lineWidth = w; ctx.beginPath(); ctx.moveTo(px, a.bottom); ctx.lineTo(px, a.bottom + len); ctx.stroke();
    };
    minorDays.forEach(d => tick(d, 5.5, 1.2));
    majorDays.forEach(d => tick(d, 9, 1.8));
    ctx.fillStyle = '#000';
    if (p.months) {
      ctx.font = '17.5px ' + FONT; ctx.textAlign = 'center'; ctx.textBaseline = 'alphabetic';
      monthStarts.forEach((d, i) => ctx.fillText(monthNames[i], xs.getPixelForValue(d), a.bottom + 33.5));
    }
    if (p.title) {
      const cy = (a.top + a.bottom) / 2;
      p.title.forEach(([lx, parts]) => {
        ctx.save();
        ctx.translate(lx, cy);
        ctx.rotate(-Math.PI / 2);
        drawRich(ctx, parts, 0, 6.5, 18, 'center');
        ctx.restore();
      });
    }
    ctx.restore();
  }
};

Object.entries(panels).forEach(([id, p]) => {
  new Chart(document.getElementById(id), {
    type: 'line',
    data: {datasets: p.datasets},
    options: {
      responsive: false, animation: false, devicePixelRatio: 1, events: [],
      layout: {padding: {left: 0, right: 1045 - 1031.7, top: p.areaTop - p.top, bottom: p.top + p.h - p.areaBottom}},
      plugins: {legend: {display: false}, tooltip: {enabled: false}},
      scales: {
        x: {type: 'linear', min: X_MIN, max: X_MAX, display: false},
        y: {type: 'linear', min: p.yMin, max: p.yMax, reverse: !!p.reverse, position: 'left',
            afterBuildTicks: s => { s.ticks = p.ticks.map(v => ({value: v})); },
            afterFit: s => { s.width = 149; s.paddingTop = 0; s.paddingBottom = 0; },
            ticks: {callback: v => p.fmt(v), font: {family: FONT, size: 17.5}, color: '#000', padding: 9, autoSkip: false, maxRotation: 0},
            grid: {color: '#000', lineWidth: 1, drawTicks: true, tickLength: 9, tickColor: '#000', tickWidth: 1.8},
            border: {display: false}}
      }
    },
    plugins: [decor]
  });
});
</script>
</body></html>
